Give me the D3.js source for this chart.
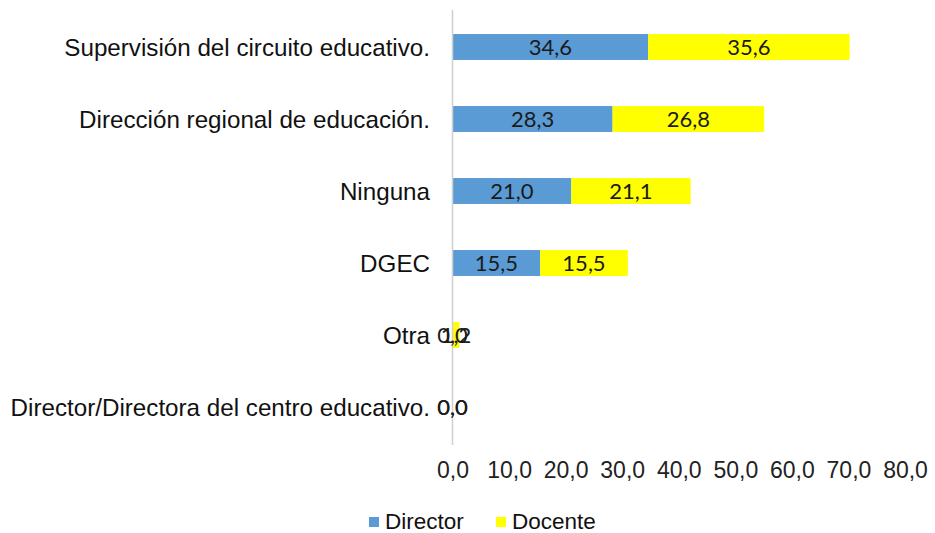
<!DOCTYPE html>
<html><head><meta charset="utf-8">
<script src="https://cdn.jsdelivr.net/npm/d3@7"></script>
<style>body{margin:0;background:#fff}svg{display:block}</style>
</head><body>
<svg id="c" width="935" height="533"></svg>
<script>
const categories = ["Supervisión del circuito educativo.","Dirección regional de educación.","Ninguna","DGEC","Otra","Director/Directora del centro educativo."];
const director = [34.6, 28.3, 21.0, 15.5, 0.0, 0.0];
const docente  = [35.6, 26.8, 21.1, 15.5, 1.2, 0.0];
const seriesNames = ["Director","Docente"];
const xTicks = [0,10,20,30,40,50,60,70,80];

const svg = d3.select("#c");
const x = d3.scaleLinear().domain([0,80]).range([452.5,905]);
const y = d3.scaleBand().domain(categories).range([11,443]).paddingInner(0.64).paddingOuter(0.32);
const colors = ["#5B9BD5","#FFFF00"];
const fmt = v => d3.format(".1f")(v).replace(".", ",");

const data = categories.map((c,i)=>({c, vals:[director[i], docente[i]]}));

const g = svg.append("g");
data.forEach(d=>{
  let start = 0;
  d.vals.forEach((v,s)=>{
    g.append("rect").attr("x", x(start)).attr("y", y(d.c)).attr("width", x(start+v)-x(start)).attr("height", y.bandwidth()).attr("fill", colors[s]);
    start += v;
  });
});

// vertical axis line
svg.append("line").attr("x1",452.5).attr("x2",452.5).attr("y1",10).attr("y2",445).attr("stroke","#d0d0d0").attr("stroke-width",1.5);

// data labels
data.forEach(d=>{
  let start = 0;
  d.vals.forEach((v,s)=>{
    svg.append("text").attr("x", x(start+v/2)).attr("y", y(d.c)+y.bandwidth()/2).attr("dy","0.36em")
      .attr("text-anchor","middle").attr("font-family","Lato, 'Open Sans', sans-serif").attr("font-size",22).attr("fill","#1a1a1a")
      .text(fmt(v));
    start += v;
  });
});

// category labels
svg.append("g").selectAll("text").data(categories).join("text")
  .attr("x",430).attr("y",d=>y(d)+y.bandwidth()/2).attr("dy","0.36em").attr("text-anchor","end")
  .attr("font-family","'Liberation Sans', Arial, sans-serif").attr("font-size",24.2).attr("fill","#111")
  .text(d=>d);

// x axis ticks
const xAxis = d3.axisBottom(x).tickValues(xTicks).tickFormat(fmt).tickSize(0).tickPadding(0);
const ax = svg.append("g").attr("transform","translate(0,470)").call(xAxis);
ax.select(".domain").remove();
ax.selectAll("text").attr("font-family","'Liberation Sans', Arial, sans-serif").attr("font-size",23).attr("fill","#222").attr("dy","0.36em");

// legend
const leg = svg.append("g");
const legItems = [{n:seriesNames[0], c:colors[0], x:369},{n:seriesNames[1], c:colors[1], x:496}];
legItems.forEach(it=>{
  leg.append("rect").attr("x",it.x).attr("y",517).attr("width",10).attr("height",10).attr("fill",it.c);
  leg.append("text").attr("x",it.x+16).attr("y",522).attr("dy","0.33em").attr("font-family","'Liberation Sans', Arial, sans-serif").attr("font-size",22.5).attr("fill","#111").text(it.n);
});
</script>
</body></html>
